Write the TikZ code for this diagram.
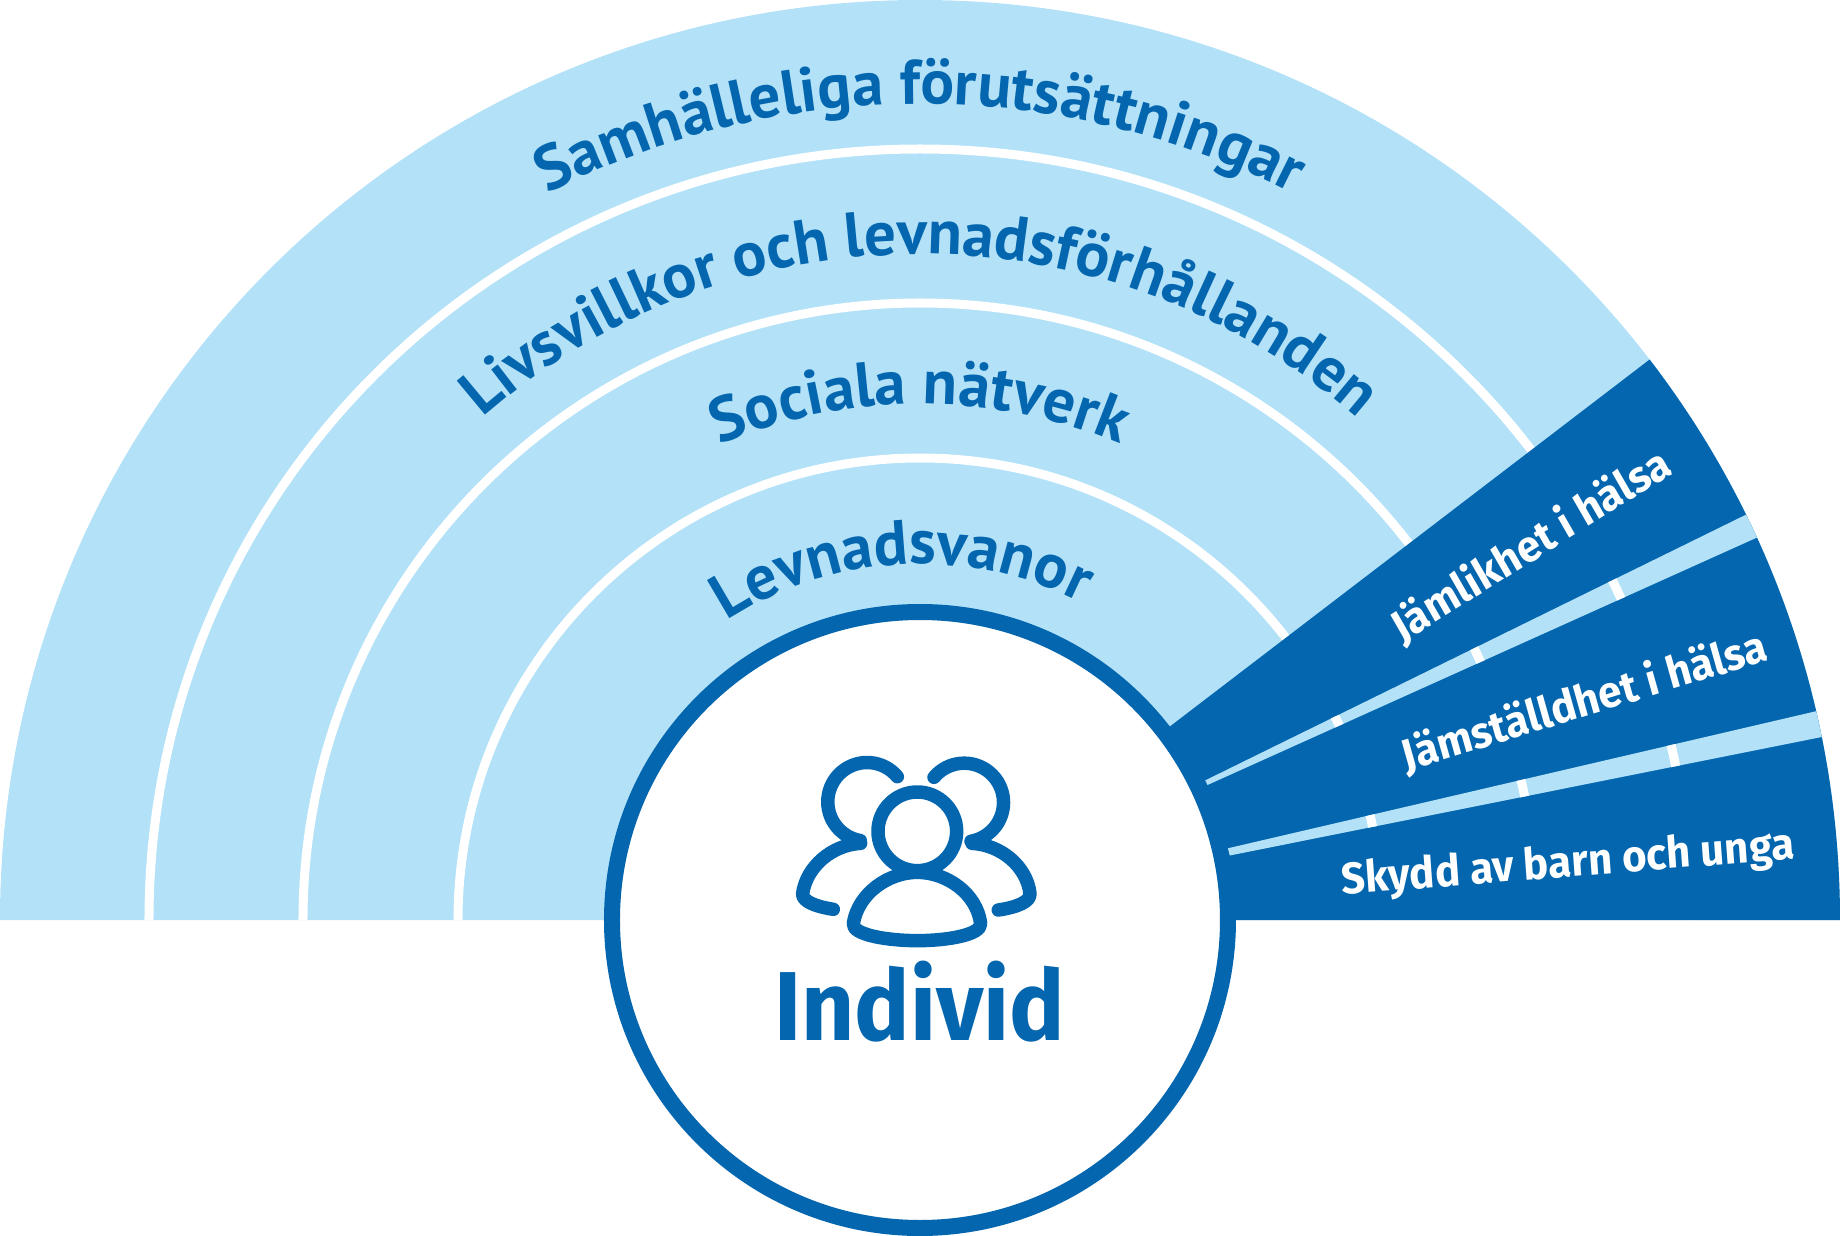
\documentclass[tikz,border=0pt]{standalone}
\usepackage{fontspec}
\usetikzlibrary{decorations.text}
\newfontfamily\arcfont{PT Sans}
\newfontfamily\labfont{Fira Sans}
\definecolor{deep}{HTML}{0366AF}
\definecolor{pale}{HTML}{B3E2F8}
\tikzset{
  gapring/.style={draw=white,line width=9pt},
  iconline/.style={draw=deep,line width=13.5pt,line cap=round,line join=round},
  arctext/.style={decorate,decoration={text along path,text align={center},
    text={|\arcfont\bfseries\fontsize{63}{63}\selectfont\color{deep}|#1}}},
  bandlabel/.style={text=white,font=\labfont\bfseries\fontsize{44}{44}\selectfont,inner sep=0pt,xscale=.955},
}
\begin{document}
\begin{tikzpicture}[x=1pt,y=1pt]
\useasboundingbox (-920,-315) rectangle (920,920);
% half disc
\fill[pale] (-920,0) arc[start angle=180,end angle=0,radius=920pt] -- cycle;
% rings
\foreach \r in {771,617,462}
  \draw[gapring] (-\r,0) arc[start angle=180,end angle=0,radius=\r pt];
% dark sector
\begin{scope}
  \clip (-920,0) arc[start angle=180,end angle=0,radius=920pt] -- cycle;
  \fill[deep] (250,193.6) -- (780,599) -- (1000,599) -- (1000,0) -- (0,0) -- cycle;
  \fill[pale] (285.2,139.6) -- (881.5,432.6) -- (892.4,407.4) -- (287.5,135) -- cycle;
  \fill[pale] (307.5,71.6) -- (955.4,222.6) -- (961.7,195) -- (309.8,64.5) -- cycle;
  \begin{scope}
    \clip (285.2,139.6) -- (881.5,432.6) -- (892.4,407.4) -- (287.5,135) -- cycle;
    \foreach \r in {771,617,462}
      \draw[gapring] (\r,0) arc[start angle=0,end angle=90,radius=\r pt];
  \end{scope}
  \begin{scope}
    \clip (307.5,71.6) -- (955.4,222.6) -- (961.7,195) -- (309.8,64.5) -- cycle;
    \foreach \r in {771,617,462}
      \draw[gapring] (\r,0) arc[start angle=0,end angle=90,radius=\r pt];
  \end{scope}
\end{scope}
% centre circle
\filldraw[draw=deep,fill=white,line width=16pt] (0,0) circle[radius=308pt];
% arc labels
\path[arctext={Samhälleliga förutsättningar}] (-816,0) arc[start angle=180,end angle=0,radius=816pt];
\path[arctext={Livsvillkor och levnadsförhållanden}] (-666,0) arc[start angle=180,end angle=0,radius=666pt];
\path[arctext={Sociala nätverk}] (-516,0) arc[start angle=180,end angle=0,radius=516pt];
\path[arctext={Levnadsvanor}] (183:356) arc[start angle=183,end angle=3,radius=356pt];
% band labels
\node[bandlabel,rotate=31] (equal) at (611,374) {Jämlikhet i hälsa};
\node[bandlabel,rotate=16.4] (gender) at (664,218) {Jämställdhet i hälsa};
\node[bandlabel,rotate=4.3] (child) at (648,55) {Skydd av barn och unga};
% icon
\begin{scope}[shift={(-160,190)},xscale=1/3,yscale=-1/3]
  \draw[iconline] (472,304) circle[radius=118];
  \draw[iconline] (280,580) .. controls (295,490) and (385,427) .. (472,427)
     .. controls (560,427) and (650,490) .. (662,580)
     .. controls (665,615) and (560,632) .. (472,632)
     .. controls (385,632) and (275,615) .. (280,580) -- cycle;
  \draw[iconline] (412,140) arc[start angle=-39.8,end angle=-260,radius=118]
     (302,340) .. controls (215,345) and (140,410) .. (128,490)
     .. controls (125,515) and (170,530) .. (220,538);
  \draw[iconline] (522,142) arc[start angle=219.8,end angle=440,radius=118]
     (636,340) .. controls (725,345) and (800,410) .. (810,490)
     .. controls (813,515) and (770,532) .. (715,540);
\end{scope}
\node[anchor=base,inner sep=0pt,text=deep,xscale=.943,font=\labfont\bfseries\fontsize{98}{98}\selectfont] (individ) at (0,-120.7) {Individ};
\end{tikzpicture}
\end{document}
